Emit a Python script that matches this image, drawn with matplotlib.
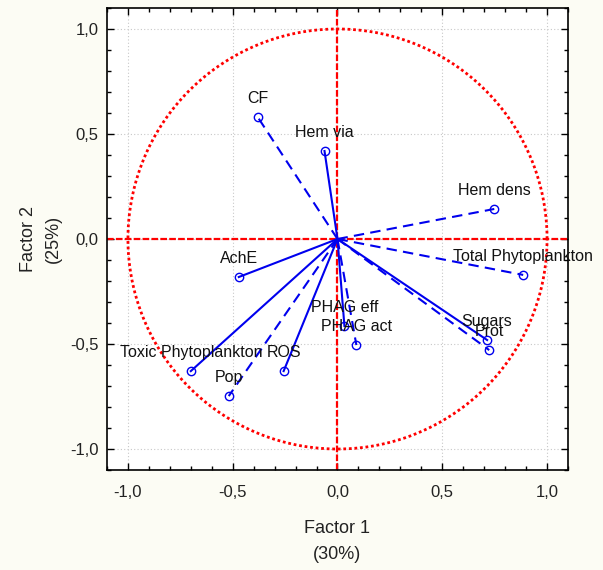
import numpy as np
import matplotlib
matplotlib.use("Agg")
import matplotlib.pyplot as plt
from matplotlib.ticker import MultipleLocator, FuncFormatter

variables = ["CF", "Hem via", "Hem dens", "Total Phytoplankton", "AchE",
             "PHAG eff", "PHAG act", "Sugars", "Prot",
             "Toxic Phytoplankton", "ROS", "Pop"]
factor1 = [-0.381, -0.062, 0.748, 0.886, -0.471, 0.033, 0.090, 0.714, 0.724, -0.700, -0.257, -0.519]
factor2 = [0.581, 0.419, 0.143, -0.171, -0.181, -0.414, -0.505, -0.481, -0.529, -0.629, -0.629, -0.748]
dashed = [True, False, True, True, False, False, True, False, True, False, False, True]
ticks = [-1.0, -0.5, 0.0, 0.5, 1.0]

plt.rcParams['font.family'] = ['Liberation Sans', 'DejaVu Sans']

fig = plt.figure(figsize=(6.03, 5.70), dpi=100, facecolor='#fcfcf4')
ax = fig.add_axes([0.1774, 0.1754, 0.7646, 0.8106])
ax.set_facecolor('white')
ax.set_xlim(-1.1, 1.1)
ax.set_ylim(-1.1, 1.1)

# grid
ax.set_xticks(ticks)
ax.set_yticks(ticks)
ax.grid(True, color='#c8c8c8', linestyle=(0, (1, 2)), linewidth=0.8)
ax.set_axisbelow(True)

# unit circle
t = np.linspace(0, 2 * np.pi, 400)
ax.plot(np.cos(t), np.sin(t), color='red', linestyle=(0, (1, 1)), linewidth=2.0, zorder=2)
ax.axhline(0, color='red', linestyle=(0, (3, 1)), linewidth=1.6, zorder=2)
ax.axvline(0, color='red', linestyle=(0, (3, 1)), linewidth=1.6, zorder=2)

for name, x, y, d in zip(variables, factor1, factor2, dashed):
    ax.plot([0, x], [0, y], color='#0000ee', linewidth=1.5,
            linestyle=(0, (5, 3)) if d else '-', zorder=3)
    ax.plot([x], [y], marker='o', markersize=6, markerfacecolor='none',
            markeredgecolor='#0000ee', markeredgewidth=1.0, zorder=4)
    ax.annotate(name, (x, y), xytext=(0, 8), textcoords='offset points',
                ha='center', va='bottom', fontsize=11.5, color='#111111', zorder=5)

fmt = FuncFormatter(lambda v, p: f"{v:.1f}".replace('.', ','))
ax.xaxis.set_major_formatter(fmt)
ax.yaxis.set_major_formatter(fmt)
ax.xaxis.set_minor_locator(MultipleLocator(0.1))
ax.yaxis.set_minor_locator(MultipleLocator(0.1))
ax.tick_params(which='both', direction='in', top=True, right=True, colors='black',
               labelcolor='#222222', labelsize=12)
ax.tick_params(which='major', length=5, width=1)
ax.tick_params(which='minor', length=3, width=1)
ax.tick_params(axis='x', pad=11)
ax.tick_params(axis='y', pad=6)
for s in ax.spines.values():
    s.set_linewidth(1.2)

ax.set_xlabel("Factor 1\n(30%)", fontsize=13, color='#222222', labelpad=14, linespacing=1.7)
ax.set_ylabel("Factor 2\n(25%)", fontsize=13, color='#222222', labelpad=6, linespacing=1.6)

fig.savefig("out.png", dpi=100, facecolor=fig.get_facecolor())
